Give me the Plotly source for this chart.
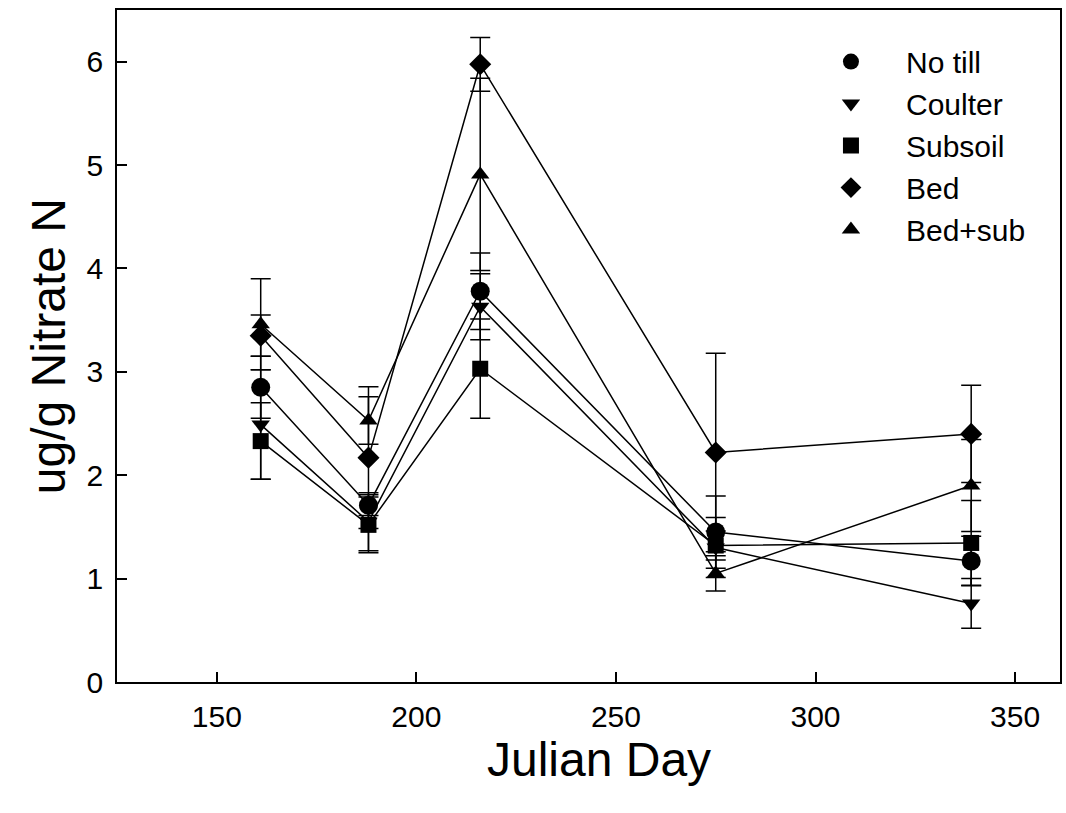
import plotly.graph_objects as go

days = [161, 188, 216, 275, 339]

no_till = [2.85, 1.71, 3.78, 1.45, 1.17]
no_till_err = [0.30, 0.10, 0.37, 0.35, 0.24]
coulter = [2.49, 1.55, 3.63, 1.30, 0.76]
coulter_err = [0.53, 0.28, 0.32, 0.29, 0.24]
subsoil = [2.33, 1.52, 3.03, 1.32, 1.345]
subsoil_err = [0.37, 0.27, 0.48, 0.14, 0.41]
bed = [3.35, 2.17, 5.975, 2.22, 2.40]
bed_err = [0.20, 0.685, 0.26, 0.96, 0.47]
bed_sub = [3.46, 2.53, 4.91, 1.05, 1.90]
bed_sub_err = [0.44, 0.23, 0.93, 0.17, 0.445]

series_names = ["No till", "Coulter", "Subsoil", "Bed", "Bed+sub"]
series_vals = [no_till, coulter, subsoil, bed, bed_sub]
series_errs = [no_till_err, coulter_err, subsoil_err, bed_err, bed_sub_err]
symbols = ["circle", "triangle-down", "square", "diamond", "triangle-up"]
sizes = [19, 16, 16, 17, 16]

x_title = "Julian Day"
y_title = "ug/g Nitrate N"

FONT = "Liberation Sans, Arial, sans-serif"

fig = go.Figure()
for name, vals, errs, sym, sz in zip(series_names, series_vals, series_errs, symbols, sizes):
    fig.add_trace(go.Scatter(
        x=days, y=vals, mode="lines+markers", name=name, showlegend=False,
        line=dict(color="black", width=1.5),
        marker=dict(symbol=sym, size=sz, color="black"),
        error_y=dict(type="data", array=errs, visible=True, color="black",
                     thickness=1.5, width=10),
    ))
for name, sym, sz in zip(series_names, symbols, sizes):
    fig.add_trace(go.Scatter(
        x=[None], y=[None], mode="markers", name=name, showlegend=True,
        marker=dict(symbol=sym, size=sz, color="black"),
    ))

axis_common = dict(
    showgrid=False, zeroline=False, showline=True, linecolor="black", linewidth=1.5,
    mirror=True, ticks="inside", ticklen=10, tickwidth=1.5, tickcolor="black",
    tickfont=dict(family=FONT, size=30, color="black"),
)

fig.update_layout(
    width=1066, height=813,
    margin=dict(l=117, r=4, t=10, b=131),
    paper_bgcolor="white", plot_bgcolor="white",
    font=dict(family=FONT, color="black"),
    xaxis=dict(range=[125, 361.25], tickvals=[150, 200, 250, 300, 350],
               ticklabelstandoff=7, **axis_common),
    yaxis=dict(range=[0, 6.5], tickvals=[0, 1, 2, 3, 4, 5, 6],
               ticklabelstandoff=6, **axis_common),
    legend=dict(x=0.72, y=0.962, xanchor="left", yanchor="top",
                font=dict(family=FONT, size=30, color="black"),
                itemwidth=100, bgcolor="rgba(0,0,0,0)", borderwidth=0,
                tracegroupgap=0),
    annotations=[
        dict(text=x_title, xref="paper", yref="paper", x=0.511, y=-0.116,
             xanchor="center", yanchor="middle", showarrow=False,
             font=dict(family=FONT, size=48, color="black")),
        dict(text=y_title, xref="paper", yref="paper", x=-0.073, y=0.5,
             xanchor="center", yanchor="middle", showarrow=False, textangle=-90,
             font=dict(family=FONT, size=48, color="black")),
    ],
)

fig.write_html("out.html")
